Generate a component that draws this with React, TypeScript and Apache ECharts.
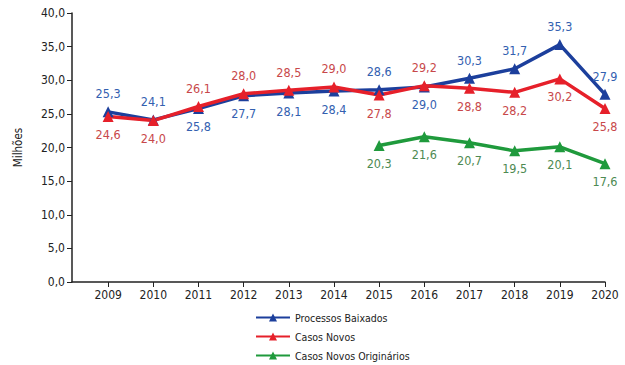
import React, { useEffect, useRef } from "react";
import * as echarts from "echarts";

const years = [2009, 2010, 2011, 2012, 2013, 2014, 2015, 2016, 2017, 2018, 2019, 2020];
const baixados = [25.3, 24.1, 25.8, 27.7, 28.1, 28.4, 28.6, 29.0, 30.3, 31.7, 35.3, 27.9];
const casosNovos = [24.6, 24.0, 26.1, 28.0, 28.5, 29.0, 27.8, 29.2, 28.8, 28.2, 30.2, 25.8];
const originariosYears = [2015, 2016, 2017, 2018, 2019, 2020];
const originarios = [20.3, 21.6, 20.7, 19.5, 20.1, 17.6];
const seriesNames = ["Processos Baixados", "Casos Novos", "Casos Novos Originários"];
// label side per point: true = above the marker
const baixadosAbove = [true, true, false, false, false, false, true, false, true, true, true, true];
const novosAbove = [false, false, true, true, true, true, false, true, false, false, false, false];

const FONT = "'Liberation Sans Narrow', 'DejaVu Sans Condensed', 'Noto Sans', sans-serif";
const fmt = (v: number) => v.toFixed(1).replace(".", ",");

function build(xs: number[], ys: number[], above: boolean[] | null) {
  return xs.map((x, i) => ({
    value: [x, ys[i]],
    label: { position: above && above[i] ? "top" : "bottom" },
  }));
}

function series(name: string, data: any[], line: string, labelColor: string) {
  return {
    name,
    type: "line",
    data,
    symbol: "triangle",
    symbolSize: 11,
    lineStyle: { color: line, width: 3.5 },
    itemStyle: { color: line },
    label: {
      show: true,
      distance: 6,
      color: labelColor,
      fontFamily: FONT,
      fontSize: 12.5,
      formatter: (p: any) => fmt(p.value[1]),
    },
  };
}

// one legend per row so the three entries stack in a single column
function legendRow(name: string, top: number) {
  return {
    orient: "vertical",
    left: 255,
    top,
    padding: 0,
    itemWidth: 34,
    itemHeight: 10,
    textStyle: { color: "#222", fontFamily: FONT, fontSize: 10.5 },
    data: [name],
  };
}

export default function App() {
  const ref = useRef<HTMLDivElement>(null);
  useEffect(() => {
    if (!ref.current) return;
    const chart = echarts.init(ref.current, null, { renderer: "svg" });
    chart.setOption({
      animation: false,
      backgroundColor: "#ffffff",
      grid: { left: 72, right: 20, top: 13, bottom: 83 },
      xAxis: {
        type: "value",
        min: 2008.2,
        max: 2020,
        splitLine: { show: false },
        axisLine: { lineStyle: { color: "#222", width: 1.5 } },
        axisTick: { show: true, customValues: years, length: 5, lineStyle: { color: "#222" } },
        axisLabel: {
          customValues: years,
          color: "#222",
          fontFamily: FONT,
          fontSize: 12,
          margin: 7,
          formatter: (v: number) => String(v),
        },
      },
      yAxis: {
        type: "value",
        min: 0,
        max: 40,
        interval: 5,
        name: "Milhões",
        nameLocation: "middle",
        nameGap: 48,
        nameRotate: 90,
        nameTextStyle: { color: "#222", fontFamily: FONT, fontSize: 11.5 },
        splitLine: { show: false },
        axisLine: { show: true, lineStyle: { color: "#222", width: 1.5 } },
        axisTick: { show: true, length: 5, lineStyle: { color: "#222" } },
        axisLabel: {
          color: "#222",
          fontFamily: FONT,
          fontSize: 12,
          margin: 7,
          formatter: (v: number) => fmt(v),
        },
      },
      legend: [
        legendRow(seriesNames[0], 312),
        legendRow(seriesNames[1], 331),
        legendRow(seriesNames[2], 350),
      ],
      series: [
        series(seriesNames[0], build(years, baixados, baixadosAbove), "#1c3f9c", "#3360b0"),
        series(seriesNames[1], build(years, casosNovos, novosAbove), "#e6202a", "#c8484a"),
        series(seriesNames[2], build(originariosYears, originarios, null), "#1f9a3c", "#4e8a52"),
      ],
    });
    return () => chart.dispose();
  }, []);
  return (
    <div
      ref={ref}
      style={{ position: "fixed", left: 0, top: 0, width: 625, height: 365 }}
    />
  );
}
